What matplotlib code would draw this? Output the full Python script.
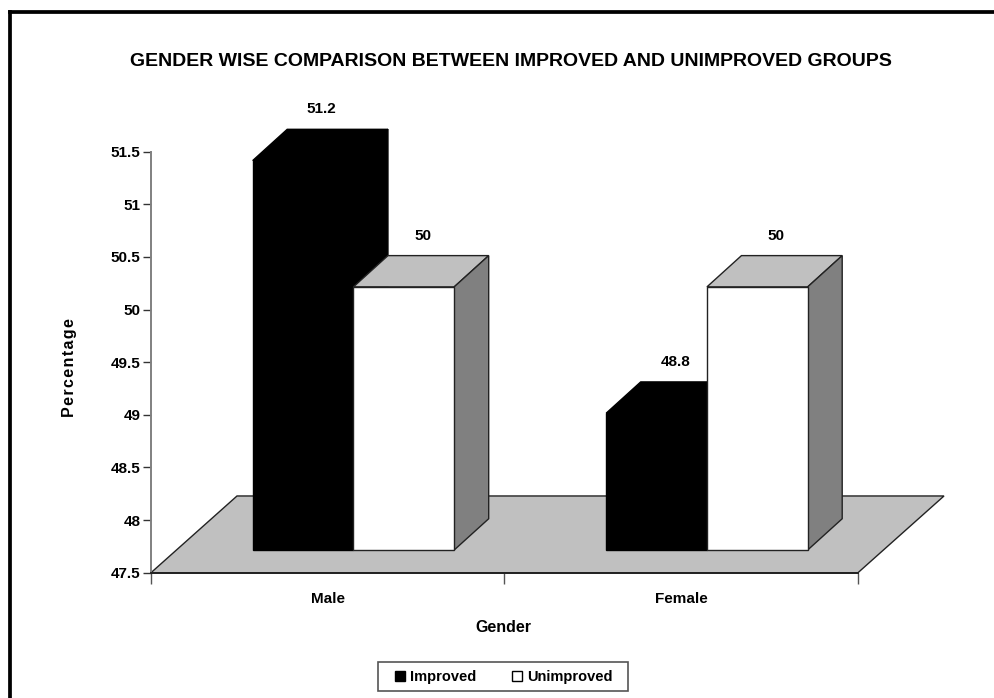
import matplotlib
matplotlib.use("Agg")
import matplotlib.pyplot as plt
from matplotlib.patches import Polygon, Rectangle
from matplotlib.lines import Line2D

categories = ["Male", "Female"]
improved = [51.2, 48.8]
unimproved = [50, 50]
y_ticks = [47.5, 48, 48.5, 49, 49.5, 50, 50.5, 51, 51.5]
y_tick_labels = ["47.5", "48", "48.5", "49", "49.5", "50", "50.5", "51", "51.5"]

W, H = 995, 698
Y_MIN, Y_MAX = 47.5, 51.5

# 3d look: everything below is in data units
BAR_LEFT = 0.2877
BAR_W = 0.285
LIFT = 0.2157
DEPTH_X = 0.0976
DEPTH_Y = 0.297
FLOOR_X = 0.2433
FLOOR_Y = 0.729

plt.rcParams["font.family"] = ["Liberation Sans", "DejaVu Sans"]
plt.rcParams["font.weight"] = "bold"

fig = plt.figure(figsize=(W / 100, H / 100), dpi=100)
ax = fig.add_axes([151 / W, 1 - 572.7 / H, 707 / W, 421 / H])
ax.set_xlim(0, 2)
ax.set_ylim(Y_MIN, Y_MAX)
ax.patch.set_visible(False)


def poly(points, face, edge="#222222", z=2, lw=1.0):
	ax.add_patch(Polygon(points, closed=True, facecolor=face, edgecolor=edge, linewidth=lw, zorder=z, clip_on=False, joinstyle="miter"))


def draw_bar(x, value, face, z):
	base = Y_MIN + LIFT
	top = value + LIFT
	x2 = x + BAR_W
	if face == "black":
		top_col = side_col = edge = "black"
	else:
		top_col, side_col, edge = "#c0c0c0", "#808080", "#222222"
	poly([(x, top), (x2, top), (x2 + DEPTH_X, top + DEPTH_Y), (x + DEPTH_X, top + DEPTH_Y)], top_col, edge, z)
	poly([(x2, base), (x2 + DEPTH_X, base + DEPTH_Y), (x2 + DEPTH_X, top + DEPTH_Y), (x2, top)], side_col, edge, z)
	poly([(x, base), (x2, base), (x2, top), (x, top)], face, edge, z)
	ax.text(x + BAR_W / 2 + DEPTH_X / 2 + 0.004, top + DEPTH_Y + 0.19, f"{value:g}", ha="center", va="center", fontsize=11, zorder=6, clip_on=False)


# floor
poly([(0, Y_MIN), (2, Y_MIN), (2 + FLOOR_X, Y_MIN + FLOOR_Y), (FLOOR_X, Y_MIN + FLOOR_Y)], "#c0c0c0", z=1)

for i in range(len(categories)):
	left = i + BAR_LEFT
	draw_bar(left, improved[i], "black", 3)
	draw_bar(left + BAR_W, unimproved[i], "white", 4)

for name in ["top", "right"]:
	ax.spines[name].set_visible(False)
ax.spines["left"].set_color("#808080")
ax.spines["left"].set_linewidth(1.4)
ax.spines["bottom"].set_color("#222222")
ax.spines["bottom"].set_linewidth(1.4)
ax.spines["left"].set_zorder(5)
ax.spines["bottom"].set_zorder(5)

ax.set_yticks(y_ticks)
ax.set_yticklabels(y_tick_labels, fontsize=11)
ax.set_xticks([0, 1, 2])
ax.set_xticklabels([])
ax.set_xticks([0.5, 1.5], categories, minor=True, fontsize=11)
ax.tick_params(axis="y", length=6, width=1, color="#333333", pad=1.5)
ax.tick_params(axis="x", which="major", length=8, width=1, color="#555555")
ax.tick_params(axis="x", which="minor", length=0, pad=14)

fig.text(511 / W, 1 - 61 / H, "GENDER WISE COMPARISON BETWEEN IMPROVED AND UNIMPROVED GROUPS", ha="center", va="center", fontsize=14)
fig.text(503 / W, 1 - 627 / H, "Gender", ha="center", va="center", fontsize=11.5)
fig.text(70 / W, 1 - 368 / H, "\u200a".join("Percentage"), rotation=90, ha="center", va="center", fontsize=11.5)

# legend box is its own rectangle so it can be taller than the entries need
fig.add_artist(Rectangle((378 / W, 1 - 691 / H), 250 / W, 29 / H, transform=fig.transFigure, facecolor="white", edgecolor="#555555", linewidth=1.2))
handles = [
	Rectangle((0, 0), 1, 1, facecolor="black", edgecolor="black"),
	Rectangle((0, 0), 1, 1, facecolor="white", edgecolor="black"),
]
fig.legend(handles, ["Improved", "Unimproved"], loc="center", bbox_to_anchor=(504 / W, 1 - 677 / H), ncol=2, fontsize=10.5,
	frameon=False, handlelength=0.68, handleheight=0.7, handletextpad=0.35, columnspacing=2.45)

# outer border
fig.add_artist(Line2D([9.7 / W, 9.7 / W], [0, 1 - 11.8 / H], color="black", linewidth=2.7, solid_capstyle="projecting"))
fig.add_artist(Line2D([9.7 / W, 1], [1 - 11.8 / H, 1 - 11.8 / H], color="black", linewidth=2.7))

fig.savefig("out.png", dpi=100)
